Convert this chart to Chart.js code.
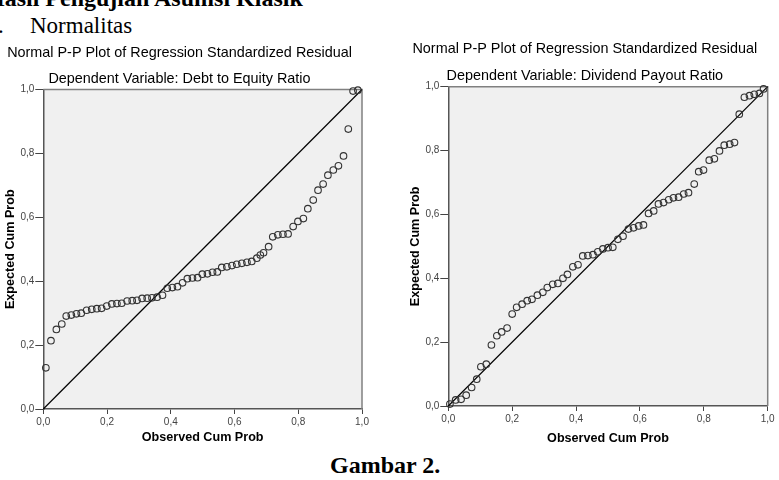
<!DOCTYPE html>
<html><head><meta charset="utf-8">
<script src="https://cdn.jsdelivr.net/npm/chart.js@4.4.0/dist/chart.umd.min.js"></script>
<style>
html,body{margin:0;padding:0;background:#fff;width:779px;height:480px;overflow:hidden;position:relative}
.t{position:absolute;white-space:nowrap;font-family:"Liberation Serif","Times New Roman",serif;color:#000;line-height:1}
canvas{position:absolute}
</style></head><body>
<div class="t" style="left:-14px;top:-14px;font-size:24px;font-weight:bold">Hasil Pengujian Asumsi Klasik</div>
<div class="t" style="left:-2px;top:14px;font-size:23px">.</div>
<div class="t" style="left:30px;top:14px;font-size:23px">Normalitas</div>
<div class="t" style="left:330px;top:453px;font-size:24px;font-weight:bold">Gambar 2.</div>
<canvas id="c1" width="377" height="420" style="left:-3px;top:30px;width:377px;height:420px"></canvas>
<canvas id="c2" width="376" height="420" style="left:402px;top:30px;width:376px;height:420px"></canvas>
<script>
// Tick labels (comma decimal, as in the source)
const tickLabels = ['0,0','0,2','0,4','0,6','0,8','1,0'];

// Chart 1: Dependent Variable: Debt to Equity Ratio
const obsDER = [0.008,0.024,0.041,0.058,0.072,0.088,0.104,0.119,0.136,0.152,0.168,0.183,0.199,0.215,0.231,0.246,0.263,0.279,0.294,0.310,0.326,0.341,0.357,0.374,0.389,0.405,0.421,0.437,0.452,0.468,0.484,0.499,0.515,0.531,0.546,0.560,0.576,0.592,0.607,0.623,0.639,0.654,0.670,0.681,0.691,0.707,0.720,0.736,0.752,0.768,0.784,0.799,0.816,0.830,0.847,0.862,0.878,0.893,0.910,0.926,0.942,0.957,0.972,0.987];
const expDER = [0.129,0.214,0.249,0.266,0.291,0.294,0.298,0.300,0.309,0.312,0.314,0.315,0.322,0.329,0.330,0.331,0.338,0.339,0.340,0.346,0.347,0.348,0.350,0.356,0.378,0.380,0.383,0.395,0.408,0.410,0.411,0.422,0.423,0.428,0.429,0.443,0.445,0.449,0.453,0.456,0.459,0.462,0.472,0.482,0.489,0.508,0.539,0.545,0.547,0.548,0.571,0.587,0.596,0.627,0.654,0.685,0.704,0.732,0.748,0.761,0.792,0.876,0.995,0.998];

// Chart 2: Dependent Variable: Dividend Payout Ratio
const obsDPR = [0.005,0.023,0.040,0.056,0.073,0.089,0.102,0.119,0.135,0.152,0.167,0.184,0.200,0.214,0.231,0.247,0.262,0.279,0.296,0.310,0.327,0.343,0.359,0.373,0.390,0.406,0.421,0.437,0.453,0.468,0.484,0.500,0.515,0.531,0.547,0.564,0.580,0.596,0.611,0.627,0.643,0.658,0.674,0.690,0.705,0.721,0.737,0.752,0.770,0.784,0.799,0.817,0.833,0.849,0.864,0.881,0.896,0.911,0.927,0.943,0.958,0.974,0.987];
const expDPR = [0.006,0.019,0.021,0.034,0.058,0.084,0.123,0.131,0.191,0.220,0.232,0.244,0.288,0.309,0.319,0.330,0.334,0.347,0.356,0.371,0.381,0.384,0.400,0.412,0.436,0.442,0.470,0.471,0.474,0.483,0.492,0.496,0.497,0.522,0.532,0.554,0.558,0.564,0.567,0.603,0.611,0.633,0.637,0.646,0.652,0.654,0.664,0.668,0.695,0.734,0.739,0.770,0.774,0.799,0.817,0.820,0.825,0.914,0.967,0.972,0.976,0.979,0.993];

// Reference diagonal endpoints
const refLine = [[0,0],[1,1]];

const mainTitle = 'Normal P-P Plot of Regression Standardized Residual';
const sub1 = 'Dependent Variable: Debt to Equity Ratio';
const sub2 = 'Dependent Variable: Dividend Payout Ratio';
const xTitle = 'Observed Cum Prob';
const yTitle = 'Expected Cum Prob';

const FONT = '"Liberation Sans", Arial, sans-serif';

const framePlugin = {
  id: 'frame',
  beforeDraw(chart) {
    const {ctx, chartArea: a} = chart;
    ctx.save();
    ctx.fillStyle = '#f0f0f0';
    ctx.fillRect(a.left, a.top, a.right - a.left, a.bottom - a.top);
    ctx.restore();
  },
  beforeDatasetsDraw(chart) {
    const {ctx, chartArea: a} = chart;
    ctx.save();
    ctx.strokeStyle = '#808080';
    ctx.lineWidth = 1.5;
    ctx.beginPath();
    ctx.moveTo(a.left, a.top);
    ctx.lineTo(a.right, a.top);
    ctx.lineTo(a.right, a.bottom);
    ctx.stroke();
    ctx.restore();
  }
};

function build(id, obs, exp, subText, g) {
  const pts = obs.map((x, i) => ({x: x, y: exp[i]}));
  const ref = refLine.map(p => ({x: p[0], y: p[1]}));
  const tickFont = {family: FONT, size: 10};
  const axTitleFont = {family: FONT, size: 12.6, weight: 'bold', lineHeight: 1.2};
  return new Chart(document.getElementById(id), {
    type: 'scatter',
    data: {datasets: [
      {data: ref, showLine: true, pointRadius: 0, borderColor: '#000', borderWidth: 1.2, clip: false, order: 2},
      {data: pts, pointRadius: 3.3, pointHoverRadius: 3.3, pointBorderWidth: 1.1, borderColor: '#333', backgroundColor: 'rgba(0,0,0,0)', clip: false, order: 1}
    ]},
    options: {
      responsive: false, animation: false, events: [],
      layout: {padding: {left: 0, right: g.pr, top: 0, bottom: 0}},
      plugins: {
        legend: {display: false}, tooltip: {enabled: false},
        title: {display: true, text: mainTitle, color: '#000', font: {family: FONT, size: 14.4, weight: 'normal', lineHeight: 1.2}, padding: {top: g.tpt, bottom: 0}},
        subtitle: {display: true, text: subText, color: '#000', font: {family: FONT, size: 14.4, weight: 'normal', lineHeight: 1.2}, padding: {top: g.spt, bottom: g.spb}}
      },
      scales: {
        x: {
          type: 'linear', min: 0, max: 1,
          ticks: {stepSize: 0.2, callback: (v, i) => tickLabels[i], color: '#444', font: tickFont, padding: 2, maxRotation: 0, autoSkip: false},
          grid: {drawOnChartArea: false, drawTicks: true, tickLength: 5, color: '#444', lineWidth: 1},
          border: {display: true, color: '#555', width: 1.5},
          title: {display: true, text: xTitle, color: '#000', font: axTitleFont, padding: {top: 0, bottom: g.xtb}},
          afterFit: s => { s.height = g.xh; }
        },
        y: {
          type: 'linear', min: 0, max: 1,
          ticks: {stepSize: 0.2, callback: (v, i) => tickLabels[i], color: '#444', font: tickFont, padding: 1, autoSkip: false},
          grid: {drawOnChartArea: false, drawTicks: true, tickLength: 8, color: '#444', lineWidth: 1},
          border: {display: true, color: '#555', width: 1.5},
          title: {display: true, text: yTitle, color: '#000', font: axTitleFont, padding: {top: g.ytt, bottom: 0}},
          afterFit: s => { s.width = g.yw; }
        }
      }
    },
    plugins: [framePlugin]
  });
}

build('c1', obsDER, expDER, sub1, {pr: 12, tpt: 14.66, spt: 8.72, spb: 1.56, xh: 41, xtb: 4.44, yw: 46.3, ytt: 5.6});
build('c2', obsDPR, expDPR, sub2, {pr: 10.3, tpt: 10.66, spt: 9.12, spb: 2.36, xh: 44, xtb: 4.14, yw: 46.3, ytt: 5.7});
</script>
</body></html>
